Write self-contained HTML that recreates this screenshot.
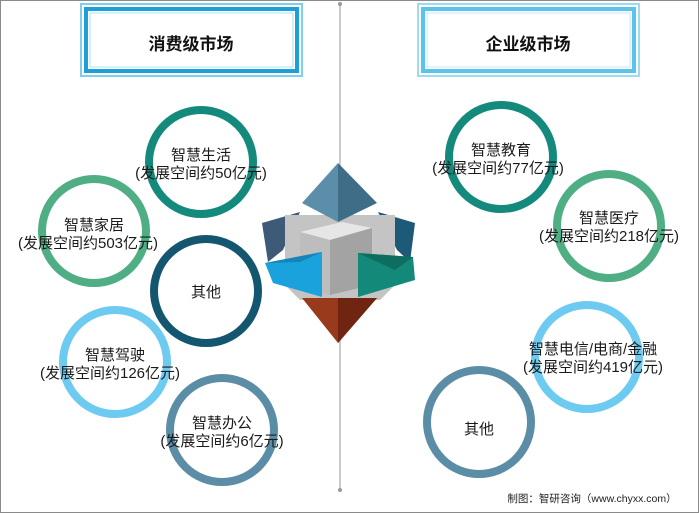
<!DOCTYPE html>
<html><head><meta charset="utf-8"><style>
html,body{margin:0;padding:0;background:#fff;}
body{width:699px;height:513px;overflow:hidden;position:relative;font-family:"Liberation Sans","Noto Sans CJK SC",sans-serif;}
</style></head><body>
<svg width="699" height="513" viewBox="0 0 699 513" xmlns="http://www.w3.org/2000/svg" style="position:absolute;left:0;top:0">
<rect x="0.5" y="0.5" width="698" height="512" fill="#fff" stroke="#8a8a8a"/>
<line x1="340" y1="4" x2="340" y2="490" stroke="#b8b8b8" stroke-width="1.5"/>
<circle cx="340" cy="4" r="2" fill="#999"/>
<circle cx="340" cy="490" r="2" fill="#999"/>
<g>
<rect x="81" y="4" width="221" height="72" fill="#fff" stroke="#7fd0ee" stroke-width="2"/>
<rect x="86" y="9" width="211" height="62" fill="#fff" stroke="#1e9fd6" stroke-width="4"/>
<rect x="90" y="13" width="203" height="54" fill="#fff" stroke="#a8e0f4" stroke-width="1"/>
<text x="191" y="50" font-size="17" font-weight="bold" text-anchor="middle" font-family="Liberation Sans,Noto Sans CJK SC,sans-serif" fill="#111">消费级市场</text>
</g>
<g>
<rect x="418" y="4" width="221" height="72" fill="#fff" stroke="#9adcf2" stroke-width="2"/>
<rect x="423" y="9" width="211" height="62" fill="#fff" stroke="#5cc3ea" stroke-width="4"/>
<rect x="427" y="13" width="203" height="54" fill="#fff" stroke="#c4ebf8" stroke-width="1"/>
<text x="528" y="50" font-size="17" font-weight="bold" text-anchor="middle" font-family="Liberation Sans,Noto Sans CJK SC,sans-serif" fill="#111">企业级市场</text>
</g>
<g fill="none" stroke-width="8">
<circle cx="201" cy="162" r="52" stroke="#138a7c"/>
<circle cx="94" cy="231" r="52" stroke="#4fae84"/>
<circle cx="206" cy="291" r="52" stroke="#14566f"/>
<circle cx="115" cy="362" r="52" stroke="#6dcaf0"/>
<circle cx="222" cy="430" r="52" stroke="#5b8ea6"/>
<circle cx="501" cy="157" r="52" stroke="#138a7c"/>
<circle cx="609" cy="226" r="52" stroke="#4fae84"/>
<circle cx="587" cy="357" r="52" stroke="#6dcaf0"/>
<circle cx="479" cy="422" r="52" stroke="#5b8ea6"/>
</g>
<g font-size="15" text-anchor="middle" fill="#1a1a1a" font-family="Liberation Sans,Noto Sans CJK SC,sans-serif">
<text x="201" y="160">智慧生活</text><text x="201" y="178">(发展空间约50亿元)</text>
<text x="94" y="230">智慧家居</text><text x="88" y="248">(发展空间约503亿元)</text>
<text x="206" y="297">其他</text>
<text x="115" y="360">智慧驾驶</text><text x="110" y="378">(发展空间约126亿元)</text>
<text x="222" y="428">智慧办公</text><text x="222" y="446">(发展空间约6亿元)</text>
<text x="501" y="155">智慧教育</text><text x="498" y="173">(发展空间约77亿元)</text>
<text x="609" y="223">智慧医疗</text><text x="609" y="241">(发展空间约218亿元)</text>
<text x="593" y="354">智慧电信/电商/金融</text><text x="593" y="372">(发展空间约419亿元)</text>
<text x="479" y="434">其他</text>
</g>
<g>
<polygon points="262,223 300,212 283,250 268,262" fill="#3d5a78"/>
<polygon points="415,223 378,212 397,250 410,262" fill="#1d5a78"/>
<polygon points="285,215 395,215 395,285 380,300 300,300 285,285" fill="#c4c4c4"/>
<polygon points="300,232 342,222 372,228 330,240" fill="#e6e6e6"/>
<polygon points="300,232 330,240 330,295 300,287" fill="#bdbdbd"/>
<polygon points="330,240 372,228 372,285 330,295" fill="#a3a3a3"/>
<polygon points="338,163 302,203 338,222" fill="#5c8eaa"/>
<polygon points="338,163 377,203 338,222" fill="#3f6d88"/>
<polygon points="302,298 377,298 338,343" fill="#9a3a1c"/>
<polygon points="338,298 377,298 338,343" fill="#6f2512"/>
<polygon points="265,263 322,252 322,297 273,283" fill="#1aa2dc"/>
<polygon points="265,263 322,252 300,262" fill="#1584b8"/>
<polygon points="358,253 413,257 415,280 358,297" fill="#13897a"/>
<polygon points="358,253 413,257 395,270" fill="#0e6d61"/>
</g>
<text x="592" y="502" font-size="10.5" text-anchor="middle" fill="#222" font-family="Liberation Sans,Noto Sans CJK SC,sans-serif">制图：智研咨询（www.chyxx.com）</text>
</svg>
</body></html>
